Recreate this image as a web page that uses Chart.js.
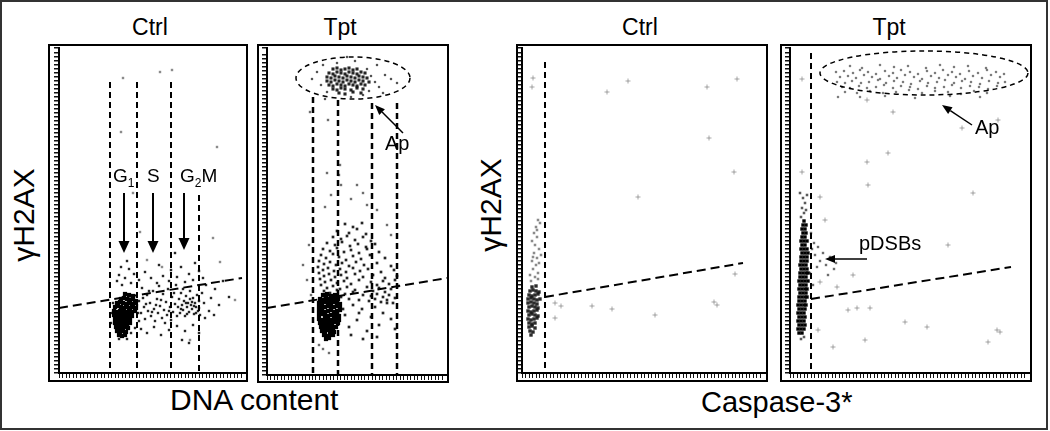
<!DOCTYPE html>
<html>
<head>
<meta charset="utf-8">
<script src="https://cdn.jsdelivr.net/npm/chart.js@4.4.1/dist/chart.umd.min.js"></script>
<style>
  html, body { margin: 0; padding: 0; background: #fff; }
  body { width: 1050px; height: 431px; position: relative; overflow: hidden; font-family: "Liberation Sans", Arial, sans-serif; color: #000; }
  .frame { position: absolute; left: 0; top: 0; width: 1048px; height: 430px; border: 2px solid #333; box-sizing: border-box; }
  .panel { position: absolute; border: 2px solid #000; box-sizing: border-box; background: #fff; }
  .panel canvas { display: block; }
  .txt { position: absolute; white-space: nowrap; line-height: 1; }
  .title { font-size: 23px; transform: translateX(-50%); }
  .ytitle { font-size: 30px; transform: translate(-50%, -50%) rotate(-90deg); }
  .xtitle { font-size: 30px; }
</style>
</head>
<body>
<div class="frame"></div>

<div class="txt title" style="left:150px; top:16px;">Ctrl</div>
<div class="txt title" style="left:340px; top:16px;">Tpt</div>
<div class="txt title" style="left:640px; top:16px;">Ctrl</div>
<div class="txt title" style="left:889px; top:16px;">Tpt</div>

<div class="txt ytitle" style="left:24px; top:215px;">γH2AX</div>
<div class="txt ytitle" style="left:491px; top:205px;">γH2AX</div>
<div class="txt xtitle" style="left:170px; top:385px;">DNA content</div>
<div class="txt xtitle" style="left:701px; top:388px; font-size:29px;">Caspase-3*</div>

<div class="panel" style="left:48px; top:44px; width:200px; height:338px;"><canvas id="p1" width="196" height="334"></canvas></div>
<div class="panel" style="left:257px; top:44px; width:192px; height:339px;"><canvas id="p2" width="188" height="335"></canvas></div>
<div class="panel" style="left:516px; top:44px; width:252px; height:338px;"><canvas id="p3" width="248" height="334"></canvas></div>
<div class="panel" style="left:780px; top:44px; width:252px; height:338px;"><canvas id="p4" width="248" height="334"></canvas></div>

<script>
// values are channel units, [DNA or caspase-3*, γH2AX]

// --- DNA content, Ctrl ---
const p1G1 = [
  [66,79],[70,78],[74,77],
  [62,74],[65,75],[68,74],[71,73],[74,74],[77,72],
  [58,70],[61,71],[64,70],[67,69],[70,70],[73,69],[76,70],
  [56,66],[59,67],[62,66],[65,65],[68,66],[71,65],[74,66],[77,65],
  [55,62],[58,61],[61,62],[64,62],[67,61],[70,62],[73,61],[76,62],
  [55,58],[58,57],[61,58],[64,58],[67,57],[70,58],[73,57],
  [56,54],[59,53],[62,54],[65,54],[68,53],[71,54],
  [56,50],[59,49],[62,50],[65,50],[68,49],[71,50],
  [57,46],[60,45],[63,46],[66,46],[69,45],
  [58,42],[61,41],[64,42],[67,41],
  [60,38],[63,37],[66,38]
];
const p1Cloud = [
  [80,72],[82,60],[83,85],[85,66],[86,54],[88,78],[89,62],[91,70],[92,57],[94,82],[95,64],[96,52],
  [98,74],[99,60],[100,87],[101,67],[103,55],[104,79],[105,63],[107,71],[108,58],[109,84],[111,66],
  [112,53],[113,76],[114,61],[116,69],[117,88],[118,57],[84,75],[87,69],[90,82],[93,61],[97,68],
  [102,73],[106,50],[110,62],[115,80],
  [119,66],[120,74],[121,60],[122,80],[123,68],[124,63],[125,72],[126,57],[127,77],[128,66],[129,70],
  [130,61],[131,82],[132,68],[133,64],[134,75],[135,59],[136,70],[137,66],[138,78],[139,62],[140,72],
  [141,58],[124,84],[128,59],[131,74],[135,67],[122,64],[127,70],[133,71],[137,60],[140,65],
  [58,92],[60,98],[63,88],[66,95],[70,104],[72,90],[75,99],[80,93],[86,101],[92,95],[98,90],[104,97],
  [110,92],[118,96],[122,106],[126,91],[130,99],[134,93],[140,102],[144,95],[62,106],[68,112],
  [100,108],[112,103],[136,110],[116,120],
  [143,80],[145,70],[147,88],[150,62],[152,75],[156,84],[160,68],[164,92],[170,76],[146,55],[155,58],
  [68,34],[72,40],[76,45],[82,44],[88,40],[95,46],[102,38],[110,43],[118,47],[126,42],[134,48],
  [140,40],[130,30],[123,33],[53,60],[54,70],[79,60],[78,68],[52,50],[60,34],[80,52]
];
const p1Outliers = [
  [64,295],[101,301],[113,303],[62,241],[74,180],[158,226],[81,141],[154,135],[161,111],
  [176,73],[131,33],[88,113],[103,106]
];

// --- DNA content, Tpt ---
const p2G1 = [
  [56,80],[60,81],[64,79],[68,80],
  [53,76],[56,75],[59,77],[62,76],[65,75],[68,77],[71,76],
  [52,72],[55,71],[58,73],[61,72],[64,71],[67,73],[70,72],[73,71],
  [52,68],[55,67],[58,68],[61,69],[64,67],[67,68],[70,69],[73,67],
  [52,64],[55,65],[58,63],[61,64],[64,65],[67,63],[70,64],[73,65],
  [52,60],[55,61],[58,60],[61,59],[64,60],[67,61],[70,60],[72,59],
  [52,56],[55,55],[58,57],[61,56],[64,55],[67,57],[70,56],[72,55],
  [53,52],[56,51],[59,53],[62,52],[65,51],[68,53],[71,52],
  [54,48],[57,47],[60,49],[63,48],[66,47],[69,48],
  [55,44],[58,43],[61,45],[64,44],[67,43],
  [57,40],[60,39],[63,41],[66,40],
  [59,36],[62,37]
];
const p2Cloud = [
  [78,151],[86,148],[95,152],
  [70,144],[82,142],[90,146],[99,141],
  [66,138],[74,136],[80,139],[88,135],[96,138],[104,134],
  [60,132],[68,130],[75,133],[83,129],[91,131],[99,128],[108,131],
  [56,126],[63,124],[70,127],[77,123],[84,125],[92,122],[100,126],[112,123],
  [54,120],[59,117],[66,121],[72,118],[79,115],[86,119],[94,116],[103,120],[118,117],
  [52,114],[57,111],[63,113],[69,110],[75,112],[82,109],[89,113],[97,110],[110,112],[124,109],
  [51,108],[56,105],[61,107],[67,104],[73,106],[79,103],[86,107],[93,104],[101,106],[114,103],[127,105],
  [52,102],[57,99],[62,101],[68,98],[74,100],[80,97],[88,101],[96,98],[106,100],[118,97],[130,99],
  [53,96],[58,93],[64,95],[70,92],[77,94],[84,91],[92,95],[104,93],[110,90],[116,94],[122,91],[128,95],
  [54,90],[60,87],[66,89],[73,86],[80,88],[88,85],[100,88],[106,84],[112,87],[118,83],[124,86],[131,89],
  [57,84],[63,82],[70,85],[78,81],[86,83],[96,80],[104,79],[110,81],[116,78],[122,80],[128,77],
  [74,78],[82,76],[92,75],[102,74],[108,76],[114,73],[120,75],[126,72],
  [78,60],[82,48],[86,70],[90,55],[95,66],[100,44],[104,58],[108,68],[112,50],[116,62],[120,72],
  [124,56],[128,46],[84,40],[96,36],[110,38],[76,66],[92,62]
];
const p2ApCore = [
  [66,306],[70,307],[74,305],[78,306],[82,307],[86,305],[90,306],
  [62,302],[66,301],[70,303],[74,302],[78,301],[82,303],[86,302],[90,301],[94,303],[98,302],
  [60,298],[64,297],[68,299],[72,298],[76,297],[80,299],[84,298],[88,297],[92,299],[96,298],[100,297],
  [60,294],[64,293],[68,295],[72,294],[76,293],[80,295],[84,294],[88,293],[92,295],[96,294],[102,293],
  [62,290],[66,289],[70,291],[74,290],[78,289],[82,291],[86,290],[90,289],[94,291],[98,290],
  [66,286],[70,285],[74,287],[78,286],[84,285],[90,287],[96,286],
  [72,282],[78,281],[86,283],[94,282]
];
const p2ApSparse = [
  [45,296],[50,303],[54,290],[56,310],[100,306],[104,299],[108,293],[112,288],[118,300],[124,296],
  [130,292],[102,284],[96,280],[84,278],[60,283],[70,312],[88,314],[80,318],[110,310],[116,282],[58,276]
];
const p2Outliers = [
  [43,263],[61,255],[71,222],[73,210],[72,200],[74,190],[60,202],[96,182],[90,190],[100,170],
  [84,176],[64,180],[110,165],[120,150],[124,140],[58,168],[36,110],[40,95],[44,80],[42,130],
  [52,30],[56,26],[62,22]
];

// --- Caspase-3*, Ctrl ---
const p3Core = [
  [10,86],[14,87],
  [8,82],[11,83],[14,82],[17,81],
  [7,78],[10,77],[13,78],[16,79],
  [6,74],[9,75],[12,74],[15,73],[18,74],
  [6,70],[9,71],[12,70],[15,69],
  [7,66],[10,67],[13,66],[16,65],
  [6,62],[9,61],[12,62],[15,63],
  [7,58],[10,59],[13,58],[16,57],
  [6,54],[9,53],[12,54],[15,55],
  [7,50],[10,49],[13,50],
  [7,46],[10,47],[13,45],
  [8,42],[11,41],
  [9,38]
];
const p3Upper = [
  [9,92],[13,96],[16,100],[11,104],[14,108],[10,112],[15,115],[12,120],[17,124],[13,128],[10,132],
  [15,136],[12,140],[14,146],[18,150],[11,116],[16,94],[8,98],[17,110],[19,118],[16,153],[15,143]
];
const p3Events = [
  [11,295],[10,286],[106,292],[85,281],[185,286],[215,294],[187,235],[212,201],[116,176],[33,70],
  [39,67],[33,55],[70,67],[90,64],[133,58],[192,71],[195,68],[213,99]
];

// --- Caspase-3*, Tpt ---
const p4Core = [
  [9,40],[12,40],
  [8,44],[11,44],[14,44],
  [9,48],[12,48],[15,48],
  [8,52],[11,52],[14,52],
  [9,56],[12,56],[15,56],
  [8,60],[11,60],[14,60],
  [9,64],[12,64],[15,64],
  [8,68],[11,68],[14,68],[16,68],
  [9,72],[12,72],[15,72],
  [9,76],[12,76],[15,76],[17,76],
  [10,80],[13,80],[16,80],
  [9,84],[12,84],[15,84],[17,84],
  [10,88],[13,88],[16,88],
  [9,92],[12,92],[15,92],[18,92],
  [10,96],[13,96],[16,96],
  [10,100],[13,100],[16,100],[18,100],
  [11,104],[14,104],[17,104],
  [10,108],[13,108],[16,108],
  [11,112],[14,112],[17,112],
  [11,116],[14,116],[17,116],
  [12,120],[15,120],[18,120],
  [11,124],[14,124],[17,124],
  [12,128],[15,128],
  [11,132],[14,132],[17,132],
  [12,136],[15,136],
  [13,140],[16,140],
  [12,144],[15,144],
  [13,148],[16,148],
  [14,152]
];
const p4Upper = [[11,156],[14,160],[12,165],[15,170],[13,175],[16,163],[10,180],[17,178],[14,36],[11,34]];
const p4Breaks = [
  [22,124],[25,118],[28,126],[30,112],[33,120],[36,108],[40,116],[44,104],[27,106],[38,98],
  [46,110],[24,130],[20,100],[23,88],[21,140]
];
const p4Ap = [
  [60,307],[72,305],[90,308],[104,306],[118,307],[136,305],[150,308],[164,306],[178,307],[196,305],
  [46,301],[54,302],[63,300],[70,303],[78,301],[86,299],[95,302],[103,300],[111,303],[120,301],[128,299],
  [137,302],[145,300],[153,303],[162,301],[170,299],[179,302],[188,300],[197,303],[206,301],[214,299],
  [50,296],[58,297],[66,295],[74,298],[82,296],[90,294],[99,297],[107,295],[115,298],[124,296],
  [132,294],[141,297],[149,295],[158,298],[166,296],[175,294],[183,297],[192,295],[201,298],[210,296],
  [47,291],[55,290],[62,292],[71,290],[79,291],[88,293],[96,290],[104,292],[113,291],[121,289],[130,292],
  [138,290],[147,291],[155,293],[164,290],[172,292],[181,291],[190,289],[199,292],[208,290],[215,291],
  [52,286],[60,285],[69,287],[77,285],[86,286],[94,288],[103,285],[111,287],[120,286],[128,284],
  [137,287],[145,285],[154,286],[162,288],[171,285],[180,287],[189,286],[198,284],[207,287],
  [55,281],[67,280],[80,282],[93,280],[106,281],[119,283],[132,280],[145,282],[158,281],[171,279],
  [184,282],[197,280],[70,276],[95,277],[125,275],[160,277],[190,276],[48,276]
];
const p4Events = [
  [12,294],[77,273],[103,261],[172,245],[208,253],[98,220],[77,211],[12,201],[78,188],[183,180],
  [30,176],[35,153],[158,128],[63,98],[47,86],[58,63],[67,65],[80,65],[115,51],[137,46],[28,43],
  [43,26],[75,33],[198,31],[207,43],[210,41],[30,91]
];

const FONT = '"Liberation Sans", Arial, sans-serif';
const INK = '#000';
Chart.defaults.font.family = FONT;

const toXY = a => a.map(p => ({ x: p[0], y: p[1] }));

function drawArrow(ctx, x0, y0, x1, y1, w, hl, hw) {
  const a = Math.atan2(y1 - y0, x1 - x0);
  const bx = x1 - hl * Math.cos(a), by = y1 - hl * Math.sin(a);
  ctx.lineWidth = w;
  ctx.beginPath(); ctx.moveTo(x0, y0); ctx.lineTo(bx, by); ctx.stroke();
  ctx.beginPath();
  ctx.moveTo(x1, y1);
  ctx.lineTo(bx + hw / 2 * Math.sin(a), by - hw / 2 * Math.cos(a));
  ctx.lineTo(bx - hw / 2 * Math.sin(a), by + hw / 2 * Math.cos(a));
  ctx.closePath(); ctx.fill();
}

// gates, arrows and labels, placed in data units through the chart scales
function gatePlugin(g) {
  return {
    id: 'gates',
    afterDatasetsDraw(chart) {
      const { ctx } = chart;
      const X = v => chart.scales.x.getPixelForValue(v);
      const Y = v => chart.scales.y.getPixelForValue(v);
      ctx.save();
      ctx.strokeStyle = INK; ctx.fillStyle = INK;

      ctx.lineWidth = g.vWidth || 2;
      ctx.setLineDash([6, 4]);
      (g.verticals || []).forEach(([x, y0, y1]) => {
        ctx.beginPath(); ctx.moveTo(X(x), Y(y1)); ctx.lineTo(X(x), Y(y0)); ctx.stroke();
      });

      ctx.lineWidth = 2;
      ctx.setLineDash([9, 5]);
      (g.slopes || []).forEach(([a, b]) => {
        ctx.beginPath(); ctx.moveTo(X(a[0]), Y(a[1])); ctx.lineTo(X(b[0]), Y(b[1])); ctx.stroke();
      });

      ctx.lineWidth = 1.5;
      ctx.setLineDash([5, 4]);
      (g.ellipses || []).forEach(([cx, cy, rx, ry]) => {
        ctx.beginPath();
        ctx.ellipse(X(cx), Y(cy), X(cx + rx) - X(cx), Y(cy) - Y(cy + ry), 0, 0, Math.PI * 2);
        ctx.stroke();
      });

      ctx.setLineDash([]);
      (g.arrows || []).forEach(([from, to, w, hl, hw]) => {
        drawArrow(ctx, X(from[0]), Y(from[1]), X(to[0]), Y(to[1]), w, hl, hw);
      });

      ctx.textBaseline = 'alphabetic';
      (g.labels || []).forEach(l => {
        let x = X(l.x);
        const y = Y(l.y);
        l.parts.forEach(([t, sub]) => {
          ctx.font = (sub ? Math.round(l.size * 0.65) : l.size) + 'px ' + FONT;
          ctx.fillText(t, x, y + (sub ? l.size * 0.28 : 0));
          x += ctx.measureText(t).width;
        });
      });
      ctx.restore();
    }
  };
}

function flowPlot(id, opt) {
  const datasets = opt.layers.map(l => ({
    data: toXY(l.pts),
    pointStyle: l.style || 'rect',
    pointRadius: l.r,
    pointHoverRadius: l.r,
    pointBackgroundColor: l.color,
    pointBorderColor: l.color,
    pointBorderWidth: l.style === 'cross' ? 1 : 0
  }));
  const axis = (max, step, size, tick, lw) => ({
    type: 'linear', min: 0, max,
    afterFit: s => { if (s.isHorizontal()) s.height = size; else s.width = size; },
    ticks: { display: false, stepSize: step },
    grid: { drawOnChartArea: false, drawTicks: true, tickLength: tick, color: '#111', lineWidth: lw },
    border: { display: true, color: '#000', width: 2 }
  });
  return new Chart(document.getElementById(id), {
    type: 'scatter',
    data: { datasets },
    options: {
      responsive: false, animation: false, events: [],
      layout: { padding: { top: 2, right: 0, bottom: 0, left: 0 }, autoPadding: false },
      plugins: { legend: { display: false }, tooltip: { enabled: false } },
      scales: {
        x: axis(opt.xMax, 3.5, opt.xAxisH, 5, 1),
        y: axis(opt.yMax, 4, opt.yAxisW, Math.min(5, opt.yAxisW), 1.5)
      }
    },
    plugins: [gatePlugin(opt.gates)]
  });
}

flowPlot('p1', {
  xMax: 187, yMax: 325, xAxisH: 7, yAxisW: 9,
  layers: [
    { pts: p1G1, r: 3, color: '#000' },
    { pts: p1Cloud, r: 1.7, color: 'rgba(0,0,0,0.85)' },
    { pts: p1Outliers, r: 1.7, color: 'rgba(90,90,90,0.7)' }
  ],
  gates: {
    verticals: [[51, 0, 291], [78, 0, 291], [112, 0, 291], [140, 0, 178]],
    slopes: [[[0, 65], [183, 95]]],
    arrows: [[[65, 180], [65, 120], 2, 12, 11], [[94, 180], [94, 120], 2, 12, 11], [[125, 180], [125, 123], 2, 12, 11]],
    labels: [
      { x: 54, y: 191, size: 19, parts: [['G', 0], ['1', 1]] },
      { x: 88, y: 191, size: 19, parts: [['S', 0]] },
      { x: 121, y: 191, size: 19, parts: [['G', 0], ['2', 1], ['M', 0]] }
    ]
  }
});

flowPlot('p2', {
  xMax: 180, yMax: 327, xAxisH: 6, yAxisW: 8,
  layers: [
    { pts: p2G1, r: 3, color: '#000' },
    { pts: p2ApCore, r: 2.2, color: 'rgba(0,0,0,0.85)' },
    { pts: p2Cloud, r: 1.9, color: 'rgba(0,0,0,0.85)' },
    { pts: p2ApSparse, r: 1.6, color: 'rgba(40,40,40,0.8)' },
    { pts: p2Outliers, r: 1.7, color: 'rgba(60,60,60,0.75)' }
  ],
  gates: {
    vWidth: 2.5,
    verticals: [[46, 0, 278], [71, 0, 275], [105, 0, 272], [130, 0, 272]],
    slopes: [[[0, 67], [180, 97]]],
    ellipses: [[86, 297, 57, 21]],
    arrows: [[[136, 242], [108, 270], 1.5, 10, 8]],
    labels: [{ x: 118, y: 225, size: 20, parts: [['Ap', 0]] }]
  }
});

flowPlot('p3', {
  xMax: 244, yMax: 325, xAxisH: 7, yAxisW: 4,
  layers: [
    { pts: p3Core, r: 2.4, color: 'rgba(20,20,20,0.9)' },
    { pts: p3Upper, r: 1.8, color: 'rgba(90,90,90,0.7)' },
    { pts: p3Events, r: 2.5, color: 'rgba(110,110,110,0.6)', style: 'cross' }
  ],
  gates: {
    verticals: [[23, 0, 311]],
    slopes: [[[23, 76], [221, 110]]]
  }
});

flowPlot('p4', {
  xMax: 240, yMax: 325, xAxisH: 7, yAxisW: 8,
  layers: [
    { pts: p4Core, r: 2.4, color: '#000' },
    { pts: p4Upper, r: 1.8, color: 'rgba(50,50,50,0.8)' },
    { pts: p4Breaks, r: 1.7, color: 'rgba(60,60,60,0.75)' },
    { pts: p4Ap, r: 1.6, color: 'rgba(80,80,80,0.75)' },
    { pts: p4Events, r: 2.5, color: 'rgba(110,110,110,0.6)', style: 'cross' }
  ],
  gates: {
    verticals: [[21, 0, 320]],
    slopes: [[[21, 74], [221, 106]]],
    ellipses: [[134, 300, 104, 22]],
    arrows: [[[182, 248], [152, 268], 1.5, 10, 8], [[77, 114], [35, 114], 1.5, 10, 8]],
    labels: [
      { x: 185, y: 239, size: 20, parts: [['Ap', 0]] },
      { x: 69, y: 123, size: 20, parts: [['pDSBs', 0]] }
    ]
  }
});
</script>
</body>
</html>
